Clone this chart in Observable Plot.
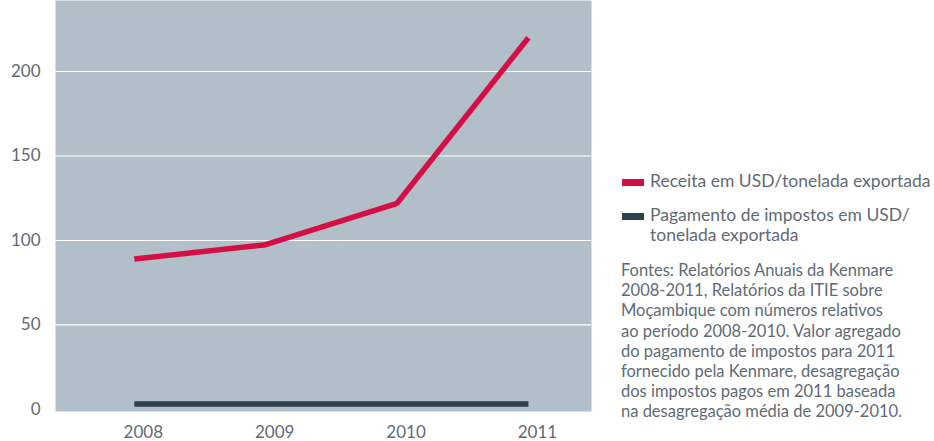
<!DOCTYPE html>
<html>
<head>
<meta charset="utf-8">
<script src="https://cdn.jsdelivr.net/npm/d3@7"></script>
<script src="https://cdn.jsdelivr.net/npm/@observablehq/plot@0.6"></script>
<style>
  html, body { margin: 0; padding: 0; background: #fff; }
  body { width: 934px; height: 441px; position: relative; overflow: hidden; font-family: Lato, "Open Sans", sans-serif; color: #5f6b74; }
  #chart { position: absolute; left: 0; top: 0; }
  #legend { position: absolute; left: 622px; top: 0; font-size: 17.5px; line-height: 18px; }
  .item { position: absolute; left: 0; white-space: nowrap; }
  .sw { position: absolute; left: 0; width: 22px; height: 7px; }
  .lab { position: absolute; left: 28px; white-space: nowrap; height: 18px; }
  #caption { position: absolute; left: 621px; top: 260px; font-size: 16.5px; line-height: 20.2px; white-space: nowrap; }
</style>
</head>
<body>
<div id="chart"></div>
<div id="legend"></div>
<div id="caption"></div>
<script>
const years = [2008, 2009, 2010, 2011];
const receita = [89, 97.5, 122, 220];
const impostos = [3.3, 3.3, 3.3, 3.3];
const yTicks = [0, 50, 100, 150, 200];
const gridTicks = [50, 100, 150, 200];
const seriesNames = ["Receita em USD/tonelada exportada", "Pagamento de impostos em USD/ tonelada exportada"];
const seriesLabelLines = [["Receita em USD/tonelada exportada"], ["Pagamento de impostos em USD/", "tonelada exportada"]];
const seriesColors = ["#d40f45", "#2e414d"];
const captionLines = [
  "Fontes: Relatórios Anuais da Kenmare",
  "2008-2011, Relatórios da ITIE sobre",
  "Moçambique com números relativos",
  "ao período 2008-2010. Valor agregado",
  "do pagamento de impostos para 2011",
  "fornecido pela Kenmare, desagregação",
  "dos impostos pagos em 2011 baseada",
  "na desagregação média de 2009-2010."
];

const rows = [];
years.forEach((y, i) => {
  rows.push({year: y, value: receita[i], series: seriesNames[0]});
  rows.push({year: y, value: impostos[i], series: seriesNames[1]});
});

const textColor = "#5f6b74";
const chart = Plot.plot({
  width: 600,
  height: 441,
  marginLeft: 55,
  marginRight: 9,
  marginTop: 0,
  marginBottom: 30,
  style: {fontFamily: "Lato, 'Open Sans', sans-serif", fontSize: "17px", color: textColor, background: "transparent"},
  x: {domain: [2007.4, 2011.48]},
  y: {domain: [-1.2, 242]},
  color: {domain: seriesNames, range: seriesColors},
  marks: [
    Plot.frame({fill: "#b3bfc8", stroke: null}),
    Plot.ruleY(gridTicks, {stroke: "#ffffff", strokeWidth: 1.2}),
    Plot.axisY({ticks: yTicks, tickSize: 0, tickPadding: 15, label: null, fill: textColor, fontSize: 17}),
    Plot.axisX({ticks: years, tickFormat: d => String(d), tickSize: 0, tickPadding: 14, dx: 9, label: null, fill: textColor, fontSize: 17}),
    Plot.line(rows, {x: "year", y: "value", stroke: "series", z: "series", strokeWidth: 5.5, strokeLinejoin: "miter", strokeLinecap: "butt"})
  ]
});
document.getElementById("chart").appendChild(chart);

const legend = document.getElementById("legend");
const tops = [172, 206];
seriesNames.forEach((name, i) => {
  const item = document.createElement("div");
  item.className = "item";
  item.style.top = tops[i] + "px";
  const sw = document.createElement("div");
  sw.className = "sw";
  sw.style.background = seriesColors[i];
  sw.style.top = "7px";
  item.appendChild(sw);
  seriesLabelLines[i].forEach((line, j) => {
    const lab = document.createElement("div");
    lab.className = "lab";
    lab.style.top = (j * 20) + "px";
    lab.textContent = line;
    item.appendChild(lab);
  });
  legend.appendChild(item);
});

document.getElementById("caption").innerHTML = captionLines.join("<br>");
</script>
</body>
</html>
